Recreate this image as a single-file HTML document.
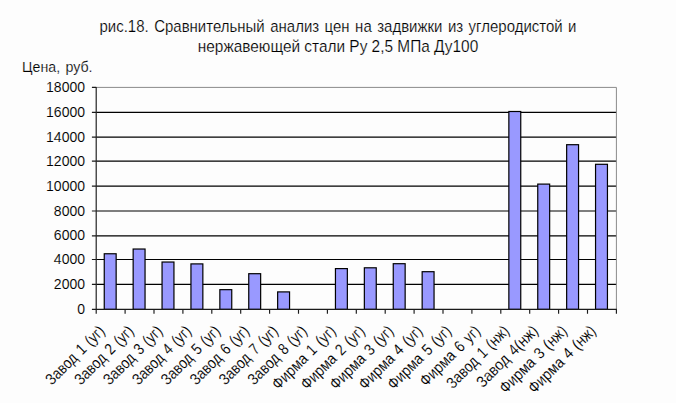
<!DOCTYPE html><html><head><meta charset="utf-8"><style>html,body{margin:0;padding:0;background:#fdfdfd;overflow:hidden;}svg{display:block;font-family:"Liberation Sans",sans-serif;}</style></head><body>
<svg width="676" height="403" viewBox="0 0 676 403">
<rect width="676" height="403" fill="#fdfdfd"/>
<g fill="#000" stroke="#fdfdfd" stroke-width="0.2" word-spacing="1.5">
<text x="338" y="31.8" font-size="17" textLength="477" lengthAdjust="spacingAndGlyphs" text-anchor="middle">рис.18. Сравнительный анализ цен на задвижки из углеродистой и</text>
<text x="338" y="52.2" word-spacing="0" font-size="17" textLength="280.5" lengthAdjust="spacingAndGlyphs" text-anchor="middle">нержавеющей стали Ру 2,5 МПа Ду100</text>
<text x="22" y="71.8" font-size="15.5" textLength="70.5" lengthAdjust="spacingAndGlyphs">Цена, руб.</text>
</g>
<path d="M96.20 284.40H616.40M96.20 259.50H616.40M96.20 235.80H616.40M96.20 211.00H616.40M96.20 186.10H616.40M96.20 161.10H616.40M96.20 137.10H616.40M96.20 112.30H616.40" stroke="#000" stroke-width="1.15" fill="none"/>
<path d="M96.20 87.40H616.40V309.40" stroke="#8a8a8a" stroke-width="1" fill="none"/>
<rect x="104.25" y="253.76" width="11.90" height="55.64" fill="#9999ff" stroke="#000" stroke-width="1.2"/>
<rect x="133.15" y="249.03" width="11.90" height="60.37" fill="#9999ff" stroke="#000" stroke-width="1.2"/>
<rect x="162.05" y="262.03" width="11.90" height="47.37" fill="#9999ff" stroke="#000" stroke-width="1.2"/>
<rect x="190.95" y="263.90" width="11.90" height="45.50" fill="#9999ff" stroke="#000" stroke-width="1.2"/>
<rect x="219.85" y="289.66" width="11.90" height="19.74" fill="#9999ff" stroke="#000" stroke-width="1.2"/>
<rect x="248.75" y="273.70" width="11.90" height="35.70" fill="#9999ff" stroke="#000" stroke-width="1.2"/>
<rect x="277.65" y="291.90" width="11.90" height="17.50" fill="#9999ff" stroke="#000" stroke-width="1.2"/>
<rect x="335.45" y="268.60" width="11.90" height="40.80" fill="#9999ff" stroke="#000" stroke-width="1.2"/>
<rect x="364.35" y="267.80" width="11.90" height="41.60" fill="#9999ff" stroke="#000" stroke-width="1.2"/>
<rect x="393.25" y="263.70" width="11.90" height="45.70" fill="#9999ff" stroke="#000" stroke-width="1.2"/>
<rect x="422.15" y="271.70" width="11.90" height="37.70" fill="#9999ff" stroke="#000" stroke-width="1.2"/>
<rect x="508.85" y="111.50" width="11.90" height="197.90" fill="#9999ff" stroke="#000" stroke-width="1.2"/>
<rect x="537.75" y="184.10" width="11.90" height="125.30" fill="#9999ff" stroke="#000" stroke-width="1.2"/>
<rect x="566.65" y="144.70" width="11.90" height="164.70" fill="#9999ff" stroke="#000" stroke-width="1.2"/>
<rect x="595.55" y="164.30" width="11.90" height="145.10" fill="#9999ff" stroke="#000" stroke-width="1.2"/>
<path d="M96.20 86.90V309.90M95.70 309.40H616.90M91.9 309.40H96.20M91.9 284.40H96.20M91.9 259.50H96.20M91.9 235.80H96.20M91.9 211.00H96.20M91.9 186.10H96.20M91.9 161.10H96.20M91.9 137.10H96.20M91.9 112.30H96.20M91.9 87.40H96.20M96.20 309.40V313.70M125.10 309.40V313.70M154.00 309.40V313.70M182.90 309.40V313.70M211.80 309.40V313.70M240.70 309.40V313.70M269.60 309.40V313.70M298.50 309.40V313.70M327.40 309.40V313.70M356.30 309.40V313.70M385.20 309.40V313.70M414.10 309.40V313.70M443.00 309.40V313.70M471.90 309.40V313.70M500.80 309.40V313.70M529.70 309.40V313.70M558.60 309.40V313.70M587.50 309.40V313.70M616.40 309.40V313.70" stroke="#1a1a1a" stroke-width="1.15" fill="none"/>
<g fill="#000" stroke="#fdfdfd" stroke-width="0.1" font-size="14" text-anchor="end">
<text x="85" y="314.00">0</text>
<text x="85" y="289.00">2000</text>
<text x="85" y="264.10">4000</text>
<text x="85" y="240.40">6000</text>
<text x="85" y="215.60">8000</text>
<text x="85" y="190.70">10000</text>
<text x="85" y="165.70">12000</text>
<text x="85" y="141.70">14000</text>
<text x="85" y="116.90">16000</text>
<text x="85" y="92.00">18000</text>
</g>
<g fill="#000" stroke="#fdfdfd" stroke-width="0.1" font-size="16" text-anchor="end" word-spacing="1.5">
<text transform="translate(105.7,332.0) rotate(-45)" textLength="76.17" lengthAdjust="spacingAndGlyphs">Завод 1 (уг)</text>
<text transform="translate(134.6,332.0) rotate(-45)" textLength="76.17" lengthAdjust="spacingAndGlyphs">Завод 2 (уг)</text>
<text transform="translate(163.4,332.0) rotate(-45)" textLength="76.17" lengthAdjust="spacingAndGlyphs">Завод 3 (уг)</text>
<text transform="translate(192.3,332.0) rotate(-45)" textLength="76.17" lengthAdjust="spacingAndGlyphs">Завод 4 (уг)</text>
<text transform="translate(221.2,332.0) rotate(-45)" textLength="76.17" lengthAdjust="spacingAndGlyphs">Завод 5 (уг)</text>
<text transform="translate(250.1,332.0) rotate(-45)" textLength="76.17" lengthAdjust="spacingAndGlyphs">Завод 6 (уг)</text>
<text transform="translate(279.0,332.0) rotate(-45)" textLength="76.17" lengthAdjust="spacingAndGlyphs">Завод 7 (уг)</text>
<text transform="translate(307.9,332.0) rotate(-45)" textLength="76.17" lengthAdjust="spacingAndGlyphs">Завод 8 (уг)</text>
<text transform="translate(336.8,332.0) rotate(-45)" textLength="82.87" lengthAdjust="spacingAndGlyphs">Фирма 1 (уг)</text>
<text transform="translate(365.7,332.0) rotate(-45)" textLength="82.87" lengthAdjust="spacingAndGlyphs">Фирма 2 (уг)</text>
<text transform="translate(394.6,332.0) rotate(-45)" textLength="82.87" lengthAdjust="spacingAndGlyphs">Фирма 3 (уг)</text>
<text transform="translate(423.5,332.0) rotate(-45)" textLength="82.87" lengthAdjust="spacingAndGlyphs">Фирма 4 (уг)</text>
<text transform="translate(452.4,332.0) rotate(-45)" textLength="82.87" lengthAdjust="spacingAndGlyphs">Фирма 5 (уг)</text>
<text transform="translate(481.3,332.0) rotate(-45)" textLength="78.20" lengthAdjust="spacingAndGlyphs">Фирма 6 уг)</text>
<text transform="translate(510.2,332.0) rotate(-45)" textLength="81.16" lengthAdjust="spacingAndGlyphs">Завод 1 (нж)</text>
<text transform="translate(539.1,332.0) rotate(-45)" textLength="79.78" lengthAdjust="spacingAndGlyphs">Завод 4(нж)</text>
<text transform="translate(568.0,332.0) rotate(-45)" textLength="88.16" lengthAdjust="spacingAndGlyphs">Фирма 3 (нж)</text>
<text transform="translate(596.9,332.0) rotate(-45)" textLength="88.16" lengthAdjust="spacingAndGlyphs">Фирма 4 (нж)</text>
</g>
</svg></body></html>
